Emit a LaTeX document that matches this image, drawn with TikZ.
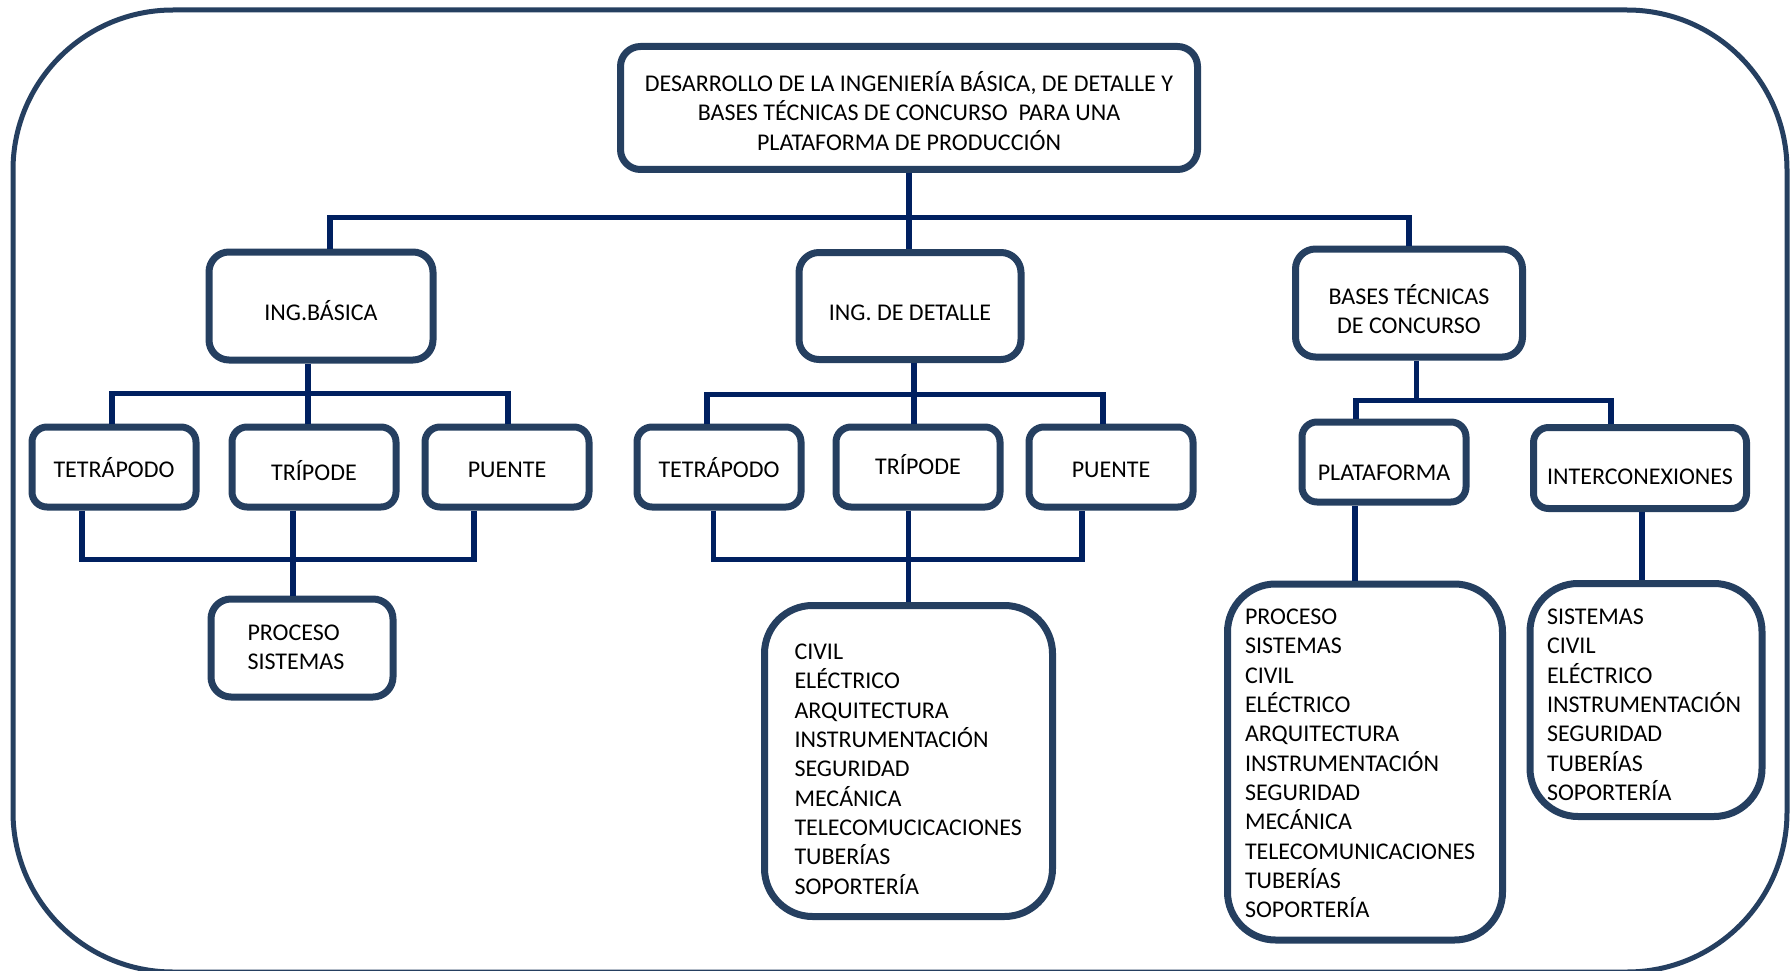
\documentclass[tikz,border=0pt]{standalone}
\usepackage{fontspec}
\setmainfont{Carlito}
\usepackage{tikz}
\usetikzlibrary{positioning,calc}

\definecolor{boxblue}{RGB}{37,63,96}
\definecolor{linkblue}{RGB}{0,32,96}

\begin{document}
\begin{tikzpicture}[x=1pt, y=-1pt,
        box/.style={draw=boxblue, line width=7pt, rounded corners=20pt, fill=white,
            inner sep=0pt, align=flush center, font=\fontsize{24}{29.3}\selectfont},
        % pad: height of the first line, fixes where the text sits in the box
        pad/.style={execute at begin node={\rule{0pt}{#1pt}},
            execute at end node={\rule[-8pt]{0pt}{8pt}}},
        leaf/.style={box, rounded corners=15pt, minimum width=164pt, minimum height=80pt},
        list/.style={box, rounded corners=48pt, align=flush left},
        link/.style={draw=linkblue, line width=5.5pt},
        frame/.style={draw=boxblue, line width=5pt, rounded corners=160pt}]

        \useasboundingbox (0, 0) rectangle (1792, 971);
        \clip (0, 0) rectangle (1792, 971);

        % Outer frame
        \draw[frame] (13, 10) rectangle (1787, 972);



        % Top box
        \node[box, pad=33.8, minimum width=577pt, minimum height=123pt, text width=560pt] (top) at (909, 108)
            {DESARROLLO DE LA INGENIERÍA BÁSICA, DE DETALLE Y\\
             BASES TÉCNICAS DE CONCURSO~ PARA UNA\\
             PLATAFORMA DE PRODUCCIÓN};

        % Second level
        \node[box, pad=37.2, minimum width=224pt, minimum height=108pt] (basica) at (321, 306) {ING.BÁSICA};
        \node[box, pad=37.2, minimum width=222pt, minimum height=107pt] (detalle) at (910, 306) {ING. DE DETALLE};
        \node[box, pad=39.9, minimum width=227pt, minimum height=108pt, text width=200pt] (bases) at (1409, 303)
            {BASES TÉCNICAS\\ DE CONCURSO};

        % Links from the top box
        \draw[link] (top.south) -- (top.south |- detalle.north);
        \draw[link] ([xshift=9pt]basica.north) -- ++(0, -31) -| (bases.north);






        % Ing. basica branch
        \node[leaf, pad=29.2] (tetra_1) at (114, 467) {TETRÁPODO};
        \node[leaf, pad=35.2] (tri_1) at (314, 467) {TRÍPODE};
        \node[leaf, pad=29.2] (pue_1) at (507, 467) {PUENTE};
        \node[list, pad=22.5, rounded corners=20pt, minimum width=182pt, minimum height=98pt, text width=109pt] (area_1) at (302, 648)
            {PROCESO\\ SISTEMAS};

        \draw[link] ([xshift=-13pt]basica.south) -- ([xshift=-6pt]tri_1.north);
        \draw[link] ([xshift=-2pt]tetra_1.north) -- ++(0, -30) -| ([xshift=1pt]pue_1.north);
        \draw[link] ([xshift=-32pt]tetra_1.south) -- ++(0, 49) -| ([xshift=-33pt]pue_1.south);
        \draw[link] ([xshift=-21pt]tri_1.south) -- ([xshift=-9pt]area_1.north);






        % Ing. de detalle branch
        \node[leaf, pad=29.2] (tetra_2) at (719, 467) {TETRÁPODO};
        \node[leaf, pad=23.2] (tri_2) at (918, 467) {TRÍPODE};
        \node[leaf, pad=29.2] (pue_2) at (1111, 467) {PUENTE};
        \node[list, pad=39.6, minimum width=288pt, minimum height=311pt, text width=228pt] (area_2) at (908.5, 761)
            {CIVIL\\ ELÉCTRICO\\ ARQUITECTURA\\ INSTRUMENTACIÓN\\ SEGURIDAD\\
             MECÁNICA\\ TELECOMUCICACIONES\\ TUBERÍAS\\ SOPORTERÍA};

        \draw[link] ([xshift=4pt]detalle.south) -- ([xshift=-4pt]tri_2.north);
        \draw[link] ([xshift=-12pt]tetra_2.north) -- ++(0, -29) -| ([xshift=-8pt]pue_2.north);
        \draw[link] ([xshift=-5.5pt]tetra_2.south) -- ++(0, 49) -| ([xshift=-29pt]pue_2.south);
        \draw[link] ([xshift=-9.5pt]tri_2.south) -- (area_2.north);






        % Bases tecnicas branch
        \node[leaf, pad=45.2] (plat) at (1384, 462) {PLATAFORMA};
        \node[box, pad=40.6, rounded corners=15pt, minimum width=213pt, minimum height=81pt] (inter) at (1640, 468) {INTERCONEXIONES};
        \node[list, pad=26.2, minimum width=275pt, minimum height=356pt, text width=240pt] (area_3) at (1365, 762)
            {PROCESO\\ SISTEMAS\\ CIVIL\\ ELÉCTRICO\\ ARQUITECTURA\\ INSTRUMENTACIÓN\\
             SEGURIDAD\\ MECÁNICA\\ TELECOMUNICACIONES\\ TUBERÍAS\\ SOPORTERÍA};
        \node[list, pad=33, minimum width=232pt, minimum height=233pt, text width=198pt] (area_4) at (1646, 700)
            {SISTEMAS\\ CIVIL\\ ELÉCTRICO\\ INSTRUMENTACIÓN\\ SEGURIDAD\\ TUBERÍAS\\ SOPORTERÍA};

        \draw[link] ([xshift=7.5pt]bases.south) -- ++(0, 40) coordinate (BUS_R);
        \draw[link] ([xshift=-28pt]plat.north) |- (BUS_R) -| ([xshift=-29pt]inter.north);
        \draw[link] ([xshift=-29pt]plat.south) -- ([xshift=-10pt]area_3.north);
        \draw[link] ([xshift=2pt]inter.south) -- ([xshift=-4pt]area_4.north);

\end{tikzpicture}
\end{document}
